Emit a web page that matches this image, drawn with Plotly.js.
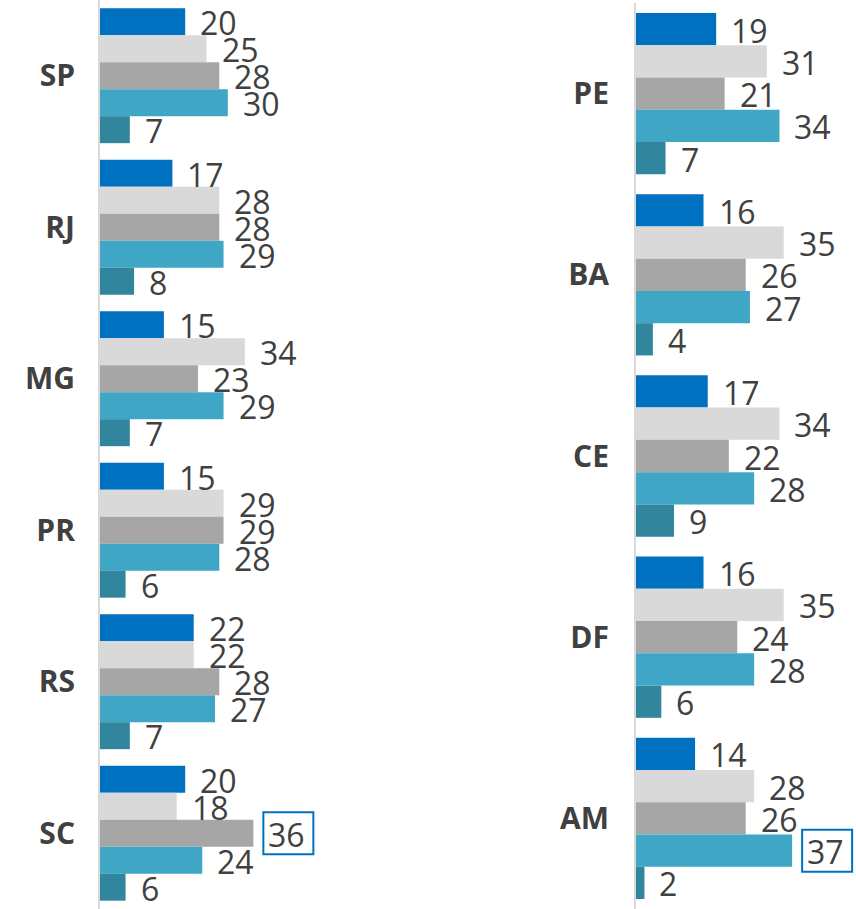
<!DOCTYPE html>
<html>
<head>
<meta charset="utf-8">
<script src="https://cdn.plot.ly/plotly-3.0.1.min.js"></script>
<style>html,body{margin:0;padding:0;background:#fff;}#chart{width:856px;height:909px;}</style>
</head>
<body>
<div id="chart"></div>
<script>
// ---- data ----
const leftCategories = ['SP', 'RJ', 'MG', 'PR', 'RS', 'SC'];
const leftSeries1 = [20, 17, 15, 15, 22, 20];
const leftSeries2 = [25, 28, 34, 29, 22, 18];
const leftSeries3 = [28, 28, 23, 29, 28, 36];
const leftSeries4 = [30, 29, 29, 28, 27, 24];
const leftSeries5 = [7, 8, 7, 6, 7, 6];

const rightCategories = ['PE', 'BA', 'CE', 'DF', 'AM'];
const rightSeries1 = [19, 16, 17, 16, 14];
const rightSeries2 = [31, 35, 34, 35, 28];
const rightSeries3 = [21, 26, 22, 24, 26];
const rightSeries4 = [34, 27, 28, 28, 37];
const rightSeries5 = [7, 4, 9, 6, 2];

// highlighted (boxed) values: [panel, category, series index]
const highlightPanels = ['left', 'right'];
const highlightCategories = ['SC', 'AM'];
const highlightSeries = [2, 3];

// ---- styling ----
const colors = ['#0070C0', '#D9D9D9', '#A6A6A6', '#3FA6C5', '#31859C'];
const textColor = '#404040';
const bargap = 0.11;
const nSeries = 5;
function groupOffset(i) {
  const w = (1 - bargap) / nSeries;
  return -(1 - bargap) / 2 + (i + 0.5) * w;
}

const panels = {
  left: {cats: leftCategories, series: [leftSeries1, leftSeries2, leftSeries3, leftSeries4, leftSeries5], xa: 'x', ya: 'y'},
  right: {cats: rightCategories, series: [rightSeries1, rightSeries2, rightSeries3, rightSeries4, rightSeries5], xa: 'x2', ya: 'y2'}
};

const traces = [];
const annotations = [];
const shapes = [];
const valueFont = {family: 'Open Sans', size: 32, color: textColor};

Object.keys(panels).forEach(function (key) {
  const p = panels[key];
  p.series.forEach(function (vals, s) {
    traces.push({
      type: 'bar', orientation: 'h',
      y: p.cats, x: vals,
      xaxis: p.xa, yaxis: p.ya,
      marker: {color: colors[s], line: {width: 0}},
      hoverinfo: 'skip'
    });
    vals.forEach(function (v, j) {
      annotations.push({
        xref: p.xa, yref: p.ya,
        x: v, y: j + groupOffset(s),
        text: String(v), showarrow: false,
        xanchor: 'left', yanchor: 'middle',
        xshift: 15, yshift: -1, borderpad: 0, borderwidth: 0,
        font: valueFont
      });
    });
  });
});

highlightPanels.forEach(function (key, h) {
  const p = panels[key];
  const j = p.cats.indexOf(highlightCategories[h]);
  const s = highlightSeries[h];
  shapes.push({
    type: 'rect', xref: p.xa, yref: p.ya,
    xsizemode: 'pixel', xanchor: p.series[s][j], x0: 10, x1: 60,
    ysizemode: 'pixel', yanchor: j + groupOffset(s), y0: -21, y1: 21,
    line: {color: '#0070C0', width: 2}, fillcolor: 'rgba(0,0,0,0)'
  });
});

const tickFont = {family: 'Open Sans', size: 30, color: textColor, weight: 'bold'};
const yCommon = {
  type: 'category', showline: true, linecolor: '#D9D9D9', linewidth: 2,
  ticks: '', showgrid: false, zeroline: false, tickfont: tickFont,
  fixedrange: true
};

const layout = {
  width: 856, height: 909,
  margin: {l: 0, r: 0, t: 0, b: 0, pad: 0},
  paper_bgcolor: '#ffffff', plot_bgcolor: '#ffffff',
  showlegend: false,
  barmode: 'group', bargap: bargap, bargroupgap: 0,
  xaxis: {domain: [100 / 856, (100 + 80 * 4.26) / 856], range: [0, 80], visible: false, anchor: 'y', fixedrange: true},
  yaxis: Object.assign({}, yCommon, {domain: [0, 1], range: [5.5, -0.5], anchor: 'x', ticklabelstandoff: 17}),
  xaxis2: {domain: [636 / 856, (636 + 52 * 4.22) / 856], range: [0, 52], visible: false, anchor: 'y2', fixedrange: true},
  yaxis2: Object.assign({}, yCommon, {domain: [0, 1 - 3 / 909], range: [4.5, -0.5], anchor: 'x2', ticklabelstandoff: 19}),
  annotations: annotations,
  shapes: shapes
};

Plotly.newPlot('chart', traces, layout, {displayModeBar: false, responsive: false});
</script>
</body>
</html>
